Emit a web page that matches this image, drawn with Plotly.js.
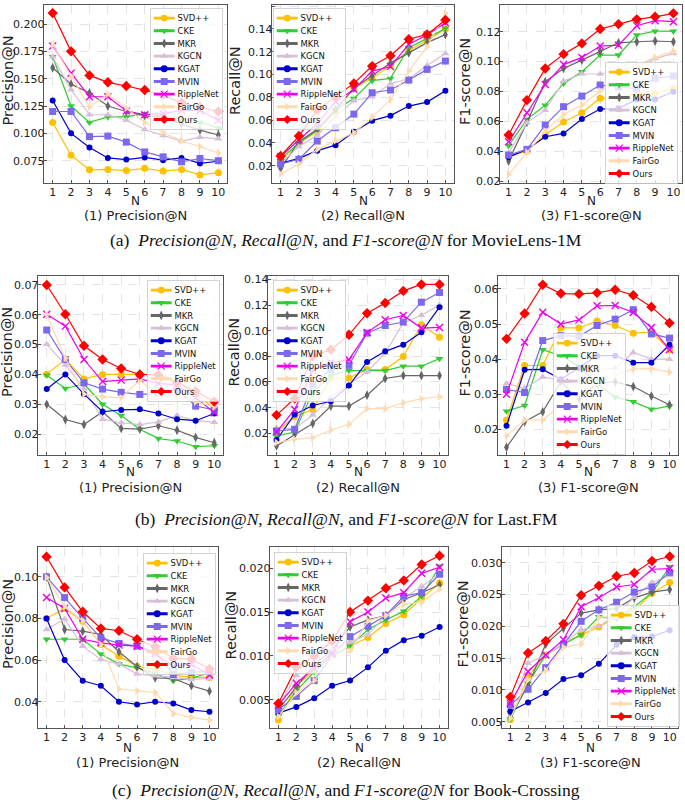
<!DOCTYPE html>
<html><head><meta charset="utf-8">
<script src="https://cdn.plot.ly/plotly-3.0.1.min.js"></script>
<style>html,body{margin:0;padding:0;background:#fff}#chart{width:685px;height:802px}</style>
</head><body><div id="chart"></div>
<script>
// ---------------- DATA ----------------
const nValues = [1, 2, 3, 4, 5, 6, 7, 8, 9, 10];
const seriesNames = ['SVD++', 'CKE', 'MKR', 'KGCN', 'KGAT', 'MVIN', 'RippleNet', 'FairGo', 'Ours'];

// rows follow seriesNames order
const mlPrecision = [
  [0.110, 0.080, 0.0667, 0.067, 0.066, 0.068, 0.0655, 0.067, 0.062, 0.064],
  [0.170, 0.125, 0.110, 0.115, 0.115, 0.118, 0.116, 0.113, 0.110, 0.105],
  [0.160, 0.145, 0.137, 0.125, 0.120, 0.116, 0.115, 0.1085, 0.103, 0.0985],
  [0.170, 0.140, 0.117, 0.117, 0.112, 0.1035, 0.098, 0.093, 0.0965, 0.095],
  [0.130, 0.100, 0.087, 0.0775, 0.076, 0.078, 0.0755, 0.0775, 0.0725, 0.0745],
  [0.120, 0.120, 0.097, 0.0975, 0.092, 0.083, 0.0785, 0.074, 0.077, 0.075],
  [0.180, 0.155, 0.1335, 0.1335, 0.1205, 0.117, 0.118, 0.121, 0.121, 0.112],
  [0.181, 0.1525, 0.124, 0.136, 0.123, 0.110, 0.101, 0.093, 0.088, 0.082],
  [0.210, 0.175, 0.153, 0.1467, 0.1433, 0.1396, 0.135, 0.128, 0.124, 0.120]
];
const mlRecall = [
  [0.024, 0.040, 0.050, 0.068, 0.088, 0.097, 0.108, 0.121, 0.130, 0.140],
  [0.0264, 0.0396, 0.0513, 0.069, 0.079, 0.0946, 0.0966, 0.1235, 0.1317, 0.1405],
  [0.0177, 0.041, 0.052, 0.069, 0.088, 0.0987, 0.110, 0.119, 0.128, 0.135],
  [0.022, 0.0367, 0.047, 0.063, 0.077, 0.0805, 0.092, 0.096, 0.108, 0.1185],
  [0.022, 0.0264, 0.0332, 0.038, 0.0498, 0.0595, 0.0639, 0.0723, 0.0758, 0.0858],
  [0.0215, 0.0256, 0.0416, 0.0533, 0.0653, 0.084, 0.0864, 0.0951, 0.1045, 0.1118],
  [0.028, 0.0425, 0.057, 0.076, 0.087, 0.103, 0.107, 0.1265, 0.1346, 0.1454],
  [0.0127, 0.0215, 0.0343, 0.042, 0.049, 0.0624, 0.078, 0.103, 0.1244, 0.1536],
  [0.0285, 0.046, 0.069, 0.0805, 0.0922, 0.1074, 0.1165, 0.131, 0.1352, 0.1478]
];
const mlF1 = [
  [0.0365, 0.040, 0.051, 0.0595, 0.0657, 0.0755, 0.0754, 0.079, 0.0787, 0.082],
  [0.0437, 0.0613, 0.0707, 0.0854, 0.0932, 0.1044, 0.1044, 0.1178, 0.1204, 0.1204],
  [0.0334, 0.0593, 0.0865, 0.0954, 0.101, 0.107, 0.1126, 0.1133, 0.1138, 0.1133],
  [0.039, 0.059, 0.0675, 0.087, 0.0917, 0.0917, 0.094, 0.097, 0.102, 0.1055],
  [0.036, 0.0412, 0.0497, 0.0519, 0.0615, 0.0682, 0.0687, 0.0747, 0.0747, 0.0798],
  [0.0374, 0.0412, 0.0575, 0.0698, 0.0769, 0.0843, 0.083, 0.082, 0.0888, 0.0903],
  [0.0463, 0.0657, 0.0847, 0.098, 0.1028, 0.1104, 0.111, 0.124, 0.1274, 0.1267],
  [0.0245, 0.0392, 0.0535, 0.0646, 0.0709, 0.0803, 0.085, 0.0977, 0.1028, 0.107],
  [0.0508, 0.0742, 0.0954, 0.105, 0.1122, 0.1218, 0.1251, 0.1283, 0.130, 0.1323]
];
const lfPrecision = [
  [0.0401, 0.045, 0.0385, 0.040, 0.040, 0.040, 0.040, 0.0375, 0.0335, 0.0286],
  [0.0397, 0.0353, 0.0368, 0.030, 0.0262, 0.0216, 0.0185, 0.0177, 0.0158, 0.0161],
  [0.030, 0.0249, 0.0232, 0.0275, 0.0219, 0.0217, 0.0228, 0.0213, 0.0189, 0.0171],
  [0.0501, 0.0432, 0.0352, 0.025, 0.0238, 0.0232, 0.0241, 0.0262, 0.0245, 0.024],
  [0.0351, 0.040, 0.0334, 0.0275, 0.0281, 0.0283, 0.0269, 0.025, 0.0245, 0.0269],
  [0.0549, 0.045, 0.0372, 0.0351, 0.034, 0.0333, 0.0336, 0.035, 0.0294, 0.0281],
  [0.0602, 0.0562, 0.045, 0.0376, 0.0381, 0.0385, 0.037, 0.0365, 0.0323, 0.0272],
  [0.060, 0.0454, 0.0334, 0.0325, 0.0322, 0.0381, 0.0328, 0.0328, 0.0308, 0.0292],
  [0.070, 0.0602, 0.0496, 0.045, 0.042, 0.040, 0.0398, 0.0373, 0.0344, 0.0309]
];
const lfRecall = [
  [0.021, 0.033, 0.0386, 0.063, 0.0632, 0.0697, 0.0697, 0.0798, 0.1046, 0.0948],
  [0.018, 0.021, 0.052, 0.0653, 0.0689, 0.0689, 0.0689, 0.0723, 0.0723, 0.0782],
  [0.0102, 0.019, 0.0277, 0.0412, 0.0412, 0.0497, 0.0627, 0.065, 0.065, 0.065],
  [0.0244, 0.0236, 0.0342, 0.0482, 0.058, 0.068, 0.0823, 0.106, 0.112, 0.120],
  [0.0148, 0.0347, 0.0417, 0.045, 0.0572, 0.0756, 0.0839, 0.0891, 0.0987, 0.1183],
  [0.0218, 0.0231, 0.058, 0.0697, 0.073, 0.0981, 0.104, 0.1067, 0.1222, 0.1297],
  [0.021, 0.0386, 0.069, 0.075, 0.0774, 0.0985, 0.1085, 0.1118, 0.102, 0.1025],
  [0.0128, 0.0153, 0.0166, 0.0226, 0.027, 0.0392, 0.0392, 0.0438, 0.047, 0.0485],
  [0.0342, 0.0472, 0.080, 0.0852, 0.0968, 0.1136, 0.1215, 0.131, 0.136, 0.136]
];
const lfF1 = [
  [0.0227, 0.0382, 0.0382, 0.0489, 0.0489, 0.0509, 0.0496, 0.0474, 0.0477, 0.0427],
  [0.0252, 0.0268, 0.0427, 0.041, 0.038, 0.033, 0.0292, 0.0279, 0.0257, 0.0266],
  [0.0149, 0.0222, 0.025, 0.0336, 0.0289, 0.033, 0.0336, 0.0322, 0.0295, 0.027],
  [0.0331, 0.0317, 0.0349, 0.0341, 0.034, 0.037, 0.0375, 0.0419, 0.040, 0.040],
  [0.021, 0.037, 0.0371, 0.0343, 0.0375, 0.041, 0.041, 0.039, 0.039, 0.0441],
  [0.0314, 0.0305, 0.0453, 0.0467, 0.0465, 0.0496, 0.0514, 0.0541, 0.0472, 0.046],
  [0.030, 0.0448, 0.0534, 0.050, 0.0512, 0.0552, 0.0553, 0.0533, 0.049, 0.0427],
  [0.0181, 0.0227, 0.0227, 0.027, 0.030, 0.033, 0.0355, 0.0372, 0.0373, 0.0363],
  [0.0458, 0.053, 0.0612, 0.0587, 0.0586, 0.0589, 0.0598, 0.0582, 0.0549, 0.0503]
];
const bxPrecision = [
  [0.080, 0.0848, 0.0787, 0.0675, 0.0619, 0.0571, 0.0556, 0.0528, 0.0517, 0.0517],
  [0.070, 0.070, 0.070, 0.0629, 0.0581, 0.0563, 0.0536, 0.0501, 0.0512, 0.0539],
  [0.100, 0.0747, 0.0739, 0.0723, 0.064, 0.0568, 0.0515, 0.0512, 0.0477, 0.0451],
  [0.0747, 0.0797, 0.0667, 0.0603, 0.0581, 0.0533, 0.0525, 0.0517, 0.0507, 0.0512],
  [0.080, 0.060, 0.0501, 0.0477, 0.040, 0.0387, 0.040, 0.0392, 0.036, 0.0352],
  [0.100, 0.090, 0.080, 0.0707, 0.068, 0.0667, 0.064, 0.0531, 0.0541, 0.0547],
  [0.090, 0.0848, 0.070, 0.0683, 0.0672, 0.0667, 0.063, 0.0571, 0.058, 0.0528],
  [0.0997, 0.0856, 0.0789, 0.0675, 0.0461, 0.0453, 0.0445, 0.0344, 0.0325, 0.0312],
  [0.1096, 0.0949, 0.0832, 0.0752, 0.0741, 0.070, 0.0664, 0.0608, 0.0605, 0.0557]
];
const bxRecall = [
  [0.0027, 0.0066, 0.0084, 0.0099, 0.0111, 0.0121, 0.0137, 0.0147, 0.0166, 0.0183],
  [0.0032, 0.006, 0.0082, 0.0101, 0.0111, 0.013, 0.0141, 0.0151, 0.0168, 0.0202],
  [0.0039, 0.0065, 0.009, 0.0107, 0.0133, 0.0141, 0.0146, 0.0164, 0.0172, 0.0181],
  [0.0042, 0.0078, 0.0102, 0.0107, 0.0116, 0.0124, 0.0146, 0.0166, 0.0179, 0.0194],
  [0.0035, 0.0042, 0.0052, 0.0066, 0.0072, 0.0087, 0.0106, 0.0118, 0.0123, 0.0133],
  [0.0039, 0.0054, 0.0072, 0.0101, 0.0122, 0.0134, 0.0146, 0.0168, 0.0172, 0.0193],
  [0.0044, 0.0069, 0.0086, 0.0103, 0.0139, 0.015, 0.0166, 0.0172, 0.0194, 0.0201],
  [0.0031, 0.0058, 0.0072, 0.0096, 0.0106, 0.014, 0.0146, 0.0159, 0.0161, 0.0176],
  [0.0046, 0.0087, 0.010, 0.0117, 0.015, 0.0163, 0.0177, 0.0186, 0.0204, 0.0214]
];
const bxF1 = [
  [0.0053, 0.0121, 0.0155, 0.0172, 0.0187, 0.0199, 0.0215, 0.0225, 0.0252, 0.0269],
  [0.0054, 0.011, 0.0155, 0.0172, 0.0187, 0.0215, 0.0212, 0.0231, 0.0253, 0.0294],
  [0.0059, 0.0107, 0.0172, 0.0197, 0.0221, 0.0226, 0.0228, 0.0245, 0.0254, 0.0258],
  [0.0068, 0.0142, 0.0155, 0.0172, 0.0195, 0.020, 0.0218, 0.0246, 0.0269, 0.028],
  [0.0066, 0.008, 0.0095, 0.0117, 0.0123, 0.0141, 0.0171, 0.0183, 0.0184, 0.0194],
  [0.0076, 0.0101, 0.0135, 0.0172, 0.0208, 0.0226, 0.0238, 0.0254, 0.0262, 0.0285],
  [0.0079, 0.0129, 0.0155, 0.0179, 0.0231, 0.0245, 0.0262, 0.0266, 0.029, 0.0291],
  [0.0055, 0.0116, 0.0131, 0.0167, 0.0172, 0.0214, 0.0216, 0.0222, 0.0223, 0.0226],
  [0.0089, 0.0158, 0.0177, 0.0204, 0.0249, 0.0264, 0.0279, 0.0284, 0.0303, 0.031]
];

// tick labels
const yTicksMLP = [0.075, 0.100, 0.125, 0.150, 0.175, 0.200];
const yTicksMLR = [0.02, 0.04, 0.06, 0.08, 0.10, 0.12, 0.14, 0.16];
const yTicksMLF = [0.02, 0.04, 0.06, 0.08, 0.10, 0.12];
const yTicksLFP = [0.02, 0.03, 0.04, 0.05, 0.06, 0.07];
const yTicksLFR = [0.02, 0.04, 0.06, 0.08, 0.10, 0.12, 0.14];
const yTicksLFF = [0.02, 0.03, 0.04, 0.05, 0.06];
const yTicksBXP = [0.04, 0.06, 0.08, 0.10];
const yTicksBXR = [0.005, 0.010, 0.015, 0.020];
const yTicksBXF = [0.005, 0.010, 0.015, 0.020, 0.025, 0.030];

const xTitle = 'N';
const metricTitles = ['Precision@N', 'Recall@N', 'F1-score@N'];
const subTitles = ['(1) Precision@N', '(2) Recall@N', '(3) F1-score@N'];
const captions = [
  '(a)  <i>Precision@N</i>, <i>Recall@N</i>, and <i>F1-score@N</i> for MovieLens-1M',
  '(b)  <i>Precision@N</i>, <i>Recall@N</i>, and <i>F1-score@N</i> for Last.FM',
  '(c)  <i>Precision@N</i>, <i>Recall@N</i>, and <i>F1-score@N</i> for Book-Crossing'
];

// ---------------- STYLE / LAYOUT ----------------
const W = 685, H = 802;
const colors = ['#FFC000', '#33CC33', '#666666', '#D8BFD8', '#0000CD', '#7B68EE', '#EE00EE', '#FFDAB0', '#FF0000'];
const symbols = ['circle', 'triangle-down', 'diamond-tall', 'triangle-up', 'circle', 'square', 'x-thin', 'triangle-right', 'diamond'];
const msizes = [7, 7, 7, 7, 6, 7, 7, 7, 8];
const LEG_SCALE = 0.58;

const panels = [
  {data: mlPrecision, ticks: yTicksMLP, fmt: '.3f', range: [0.0546, 0.2174], frame: [44, 5, 227, 183], leg: [150, 8], m: 0, yt: 7.5},
  {data: mlRecall, ticks: yTicksMLR, fmt: '.2f', range: [0.0048, 0.161], frame: [272, 5, 454, 183], leg: [273, 8], m: 1, yt: 235},
  {data: mlF1, ticks: yTicksMLF, fmt: '.2f', range: [0.0187, 0.1379], frame: [500, 5, 682, 183], leg: [605, 62], m: 2, yt: 465},
  {data: lfPrecision, ticks: yTicksLFP, fmt: '.2f', range: [0.013, 0.073], frame: [38, 276, 223, 455], leg: [147, 280], m: 0, yt: 7.5},
  {data: lfRecall, ticks: yTicksLFR, fmt: '.2f', range: [0.0031, 0.1426], frame: [268, 276, 448, 455], leg: [273, 280], m: 1, yt: 234},
  {data: lfF1, ticks: yTicksLFF, fmt: '.2f', range: [0.0127, 0.0637], frame: [498, 276, 678, 455], leg: [553, 333], m: 2, yt: 465},
  {data: bxPrecision, ticks: yTicksBXP, fmt: '.2f', range: [0.0274, 0.1143], frame: [38, 547, 218, 728], leg: [143, 553], m: 0, yt: 7.5},
  {data: bxRecall, ticks: yTicksBXR, fmt: '.3f', range: [0.0018, 0.0224], frame: [270, 547, 448, 728], leg: [274, 552], m: 1, yt: 230},
  {data: bxF1, ticks: yTicksBXF, fmt: '.3f', range: [0.004, 0.0325], frame: [502, 547, 678, 728], leg: [607, 605], m: 2, yt: 462}
];
const nY = [201, 472, 748];
const subY = [215, 488, 762];
const capY = [240, 519, 790];

const FONT = 'DejaVu Sans, sans-serif';
const traces = [];
const layout = {
  width: W, height: H, margin: {l: 0, r: 0, t: 0, b: 0, autoexpand: false},
  paper_bgcolor: '#fff', plot_bgcolor: '#fff',
  font: {family: FONT, color: '#222'},
  annotations: [], showlegend: true
};
function ann(text, xpx, ypx, size, extra) {
  return Object.assign({
    text: text, xref: 'paper', yref: 'paper', x: xpx / W, y: 1 - ypx / H,
    xanchor: 'center', yanchor: 'middle', showarrow: false,
    font: {family: FONT, size: size, color: '#222'}
  }, extra || {});
}

panels.forEach((p, i) => {
  const sfx = i === 0 ? '' : String(i + 1);
  const legName = 'legend' + sfx;
  const row = Math.floor(i / 3);
  const [l, t, r, b] = p.frame;
  const axCommon = {
    showline: true, mirror: true, linecolor: '#555', linewidth: 1.3,
    ticks: 'inside', ticklen: 3, tickcolor: '#555',
    showgrid: true, gridcolor: '#dddddd', griddash: 'dash', gridwidth: 0.8,
    zeroline: false, tickfont: {family: FONT, size: 11, color: '#222'}
  };
  layout['xaxis' + sfx] = Object.assign({}, axCommon, {
    domain: [l / W, r / W], anchor: 'y' + sfx, range: [0.53, 10.47],
    tickmode: 'array', tickvals: nValues, ticktext: nValues.map(String),
    ticklabelstandoff: -2
  });
  layout['yaxis' + sfx] = Object.assign({}, axCommon, {
    domain: [1 - b / H, 1 - t / H], anchor: 'x' + sfx, range: p.range,
    tickmode: 'array', tickvals: p.ticks, tickformat: p.fmt,
    ticklabelstandoff: -4
  });
  layout[legName] = {
    x: p.leg[0] / W, y: 1 - p.leg[1] / H, xanchor: 'left', yanchor: 'top',
    font: {family: FONT, size: 14.5, color: '#111'},
    bgcolor: 'rgba(255,255,255,0.8)', bordercolor: '#cccccc', borderwidth: 1.5,
    itemsizing: 'constant', itemwidth: 36, tracegroupgap: 0
  };
  layout.annotations.push(ann(metricTitles[p.m], p.yt, (t + b) / 2 - 13, 14.5, {textangle: -90}));
  layout.annotations.push(ann(xTitle, (l + r) / 2, nY[row], 12));
  layout.annotations.push(ann(subTitles[p.m], (l + r) / 2, subY[row], 13));
  seriesNames.forEach((name, j) => {
    traces.push({
      type: 'scatter', mode: 'lines+markers', name: name,
      x: nValues, y: p.data[j],
      xaxis: 'x' + sfx, yaxis: 'y' + sfx, legend: legName,
      line: {color: colors[j], width: 1.2},
      marker: {symbol: symbols[j], size: msizes[j], color: colors[j],
               line: {width: symbols[j] === 'x-thin' ? 1.4 : 0, color: colors[j]}},
      cliponaxis: true
    });
  });
});

captions.forEach((c, k) => {
  layout.annotations.push(ann(c, W / 2 + 4, capY[k], 17.5,
    {font: {family: 'Liberation Serif, serif', size: 17.5, color: '#111'}}));
});

Plotly.newPlot('chart', traces, layout, {displayModeBar: false, staticPlot: true}).then(() => {
  document.querySelectorAll('g').forEach(g => {
    const cls = (g.getAttribute('class') || '').trim();
    if (/^legend\d*$/.test(cls)) {
      const tr = g.getAttribute('transform') || '';
      g.setAttribute('transform', tr + ' scale(' + LEG_SCALE + ')');
    }
  });
});
</script>
</body></html>
